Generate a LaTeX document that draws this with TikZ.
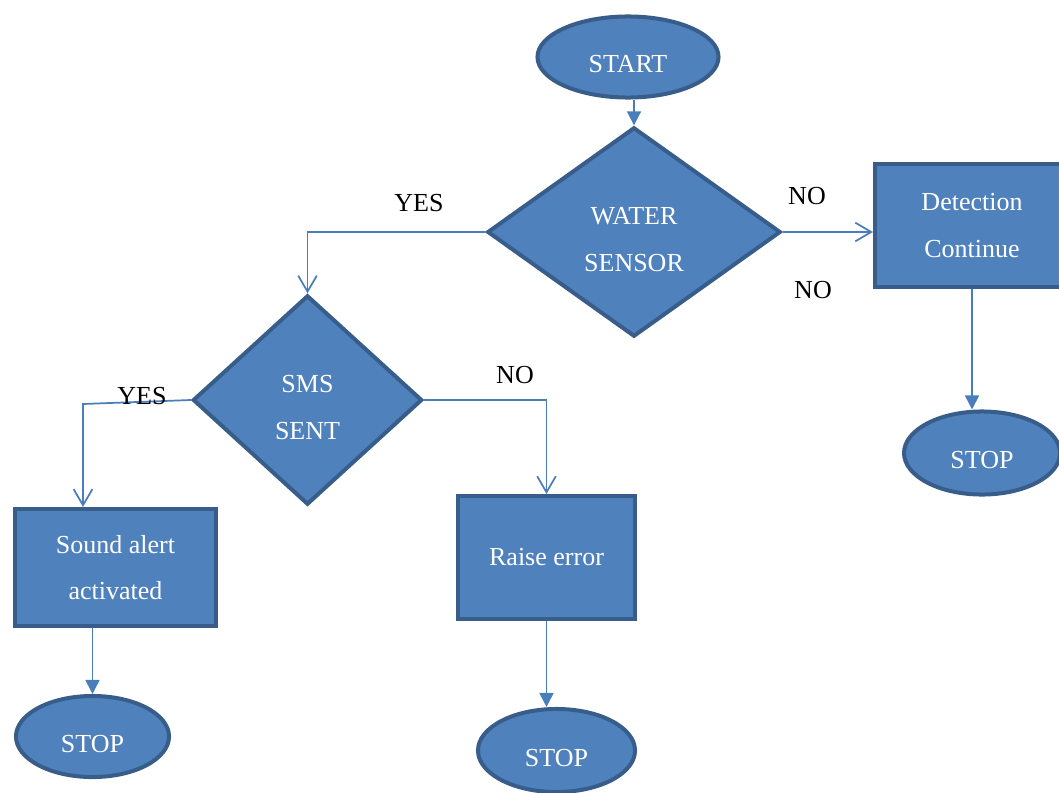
\documentclass[tikz,border=0pt]{standalone}
\usepackage{fontspec}
\setmainfont{Liberation Serif}
\usepackage{tikz}
\usetikzlibrary{shapes.geometric}
\usetikzlibrary{arrows.meta}
\definecolor{boxfill}{HTML}{4F81BD}
\definecolor{boxline}{HTML}{385D8A}
\definecolor{flowline}{HTML}{4A7EBB}

\begin{document}
\begin{tikzpicture}[x=0.75pt,y=0.75pt,yscale=-1,xscale=1,
  blk/.style={draw=boxline,fill=boxfill,line width=3pt,text=white,inner sep=0pt,align=center,font=\fontsize{19.5}{35}\selectfont},
  term/.style={blk,ellipse,text height=24pt},
  ask/.style={blk,diamond,text height=59pt},
  act/.style={blk,rectangle},
  lbl/.style={inner sep=0.75pt,font=\fontsize{19.5}{24}\selectfont},
  flow/.style={draw=flowline,line width=1.3pt},
  branch/.style={flow,-{Straight Barb[length=12pt,width=14pt]}},
  onward/.style={flow,-{Triangle[length=10.5pt,width=10.5pt]}}]
%set diagram left start at 0, and has height of 792
\useasboundingbox (0,0) rectangle (1059,792);

%Shape: Ellipse
\node [term,minimum width=135.8pt,minimum height=60.8pt] (start) at (628,57) {START};
%Shape: Diamond
\node [ask,minimum width=220pt,minimum height=157pt] (water) at (634,232) {WATER\\SENSOR};
%Shape: Rectangle
\node [act,minimum width=145.5pt,minimum height=92.3pt] (detect) at (972,225.5) {Detection\\Continue};
%Shape: Ellipse
\node [term,minimum width=117pt,minimum height=62.3pt] (stopR) at (982,453) {STOP};
%Shape: Diamond
\node [ask,minimum width=172pt,minimum height=157pt] (sms) at (307.5,400) {SMS\\SENT};
%Shape: Rectangle
\node [act,minimum width=150.8pt,minimum height=87.8pt] (sound) at (115.5,567.5) {Sound alert\\activated};
%Shape: Rectangle
\node [act,minimum width=132.8pt,minimum height=92.3pt] (raise) at (546.5,557.5) {Raise error};
%Shape: Ellipse
\node [term,minimum width=114.8pt,minimum height=60.8pt] (stopL) at (92.5,736.5) {STOP};
%Shape: Ellipse
\node [term,minimum width=117.8pt,minimum height=62.3pt] (stopM) at (556.5,750.5) {STOP};

%Straight Lines
\draw [onward] (start.south -| water.north) -- (water.north);
%Straight Lines
\draw [branch] (water.east) -- (water.east -| detect.west);
%Straight Lines
\draw [onward] (detect.south) -- (detect.south |- stopR.north);
%Straight Lines
\draw [branch] (water.west) -| (sms.north);
%Straight Lines
\coordinate (yesTurn) at (83,404);
\draw [branch] (sms.west) -- (yesTurn) -- (yesTurn |- sound.north);
%Straight Lines
\draw [branch] (sms.east) -| (raise.north);
%Straight Lines
\draw [onward] (stopL.north |- sound.south) -- (stopL.north);
%Straight Lines
\draw [onward] (raise.south) -- (raise.south |- stopM.north);

% Text Node
\node [lbl] (yesWater) at (419,203) {YES};
% Text Node
\node [lbl] (noWater) at (807,196) {NO};
% Text Node
\node [lbl] (noWaterB) at (813,290) {NO};
% Text Node
\node [lbl] (yesSms) at (142,396) {YES};
% Text Node
\node [lbl] (noSms) at (515,375) {NO};
\end{tikzpicture}
\end{document}
